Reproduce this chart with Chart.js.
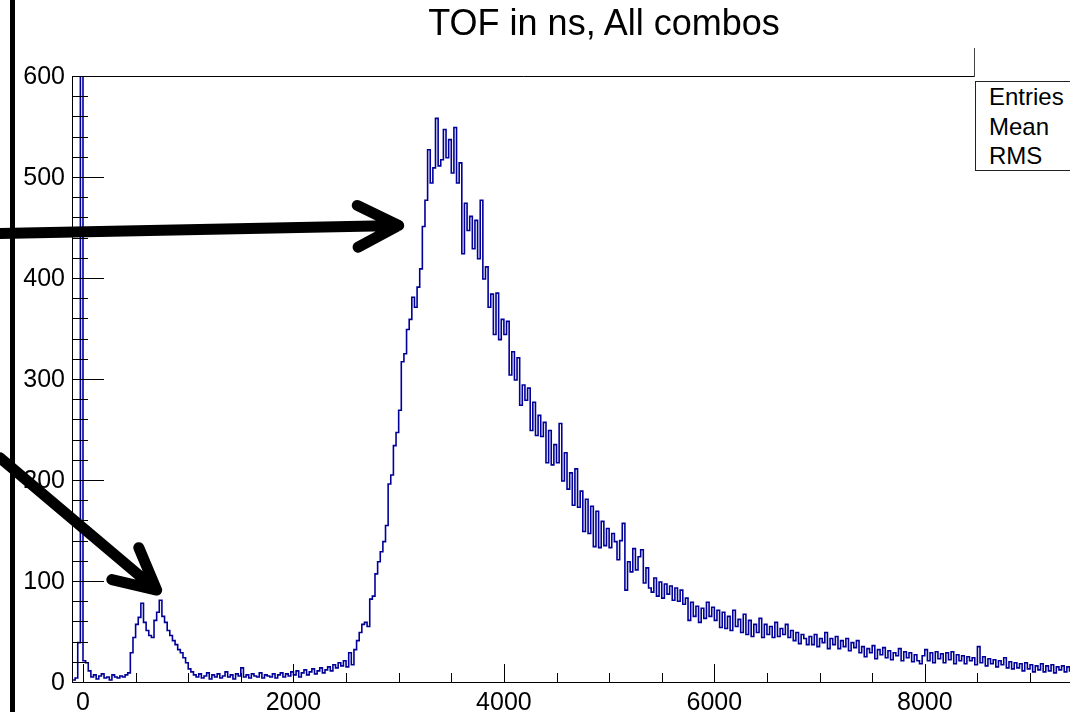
<!DOCTYPE html>
<html>
<head>
<meta charset="utf-8">
<title>TOF in ns, All combos</title>
<script src="https://cdn.jsdelivr.net/npm/chart.js@4.4.1/dist/chart.umd.min.js"></script>
<style>
    html, body { margin: 0; padding: 0; background: #fff; overflow: hidden; }
    #wrap {
        position: relative;
        width: 1070px;
        height: 712px;
        overflow: hidden;
        font-family: 'Liberation Sans', Arial, sans-serif;
        color: #000;
    }
    #tof { position: absolute; left: 0; top: 0; }
    .hist-title {
        position: absolute;
        left: 604px;
        top: 5px;
        transform: translateX(-50%);
        font-size: 36px;
        line-height: 36px;
        white-space: nowrap;
    }
    .stats {
        position: absolute;
        left: 975px;
        top: 81px;
        width: 140px;
        height: 90px;
        border: 1px solid #222;
        box-sizing: border-box;
        padding-left: 13px;
        font-size: 24px;
        line-height: 29.5px;
        background: #fff;
    }
    .edge-bar { position: absolute; left: 10px; top: 0; width: 5px; height: 712px; background: #000; }
    .pad-mark { position: absolute; left: 974px; top: 48px; width: 1px; height: 29px; background: #444; }
</style>
</head>
<body>
<div id="wrap">
    <canvas id="tof" width="1070" height="712"></canvas>
    <div class="hist-title">TOF in ns, All combos</div>
    <div class="pad-mark"></div>
    <div class="stats">
        <div>Entries</div>
        <div>Mean</div>
        <div>RMS</div>
    </div>
    <div class="edge-bar"></div>
</div>
<script>
// TOF histogram: 25 ns bins starting at -100 ns
const binLow = -100;
const binWidth = 25;
// bin 3 overflows the plotted range (above 600)
const counts = [
    3, 5, 40, 1500, 22, 20, 12, 6, 8, 4,
    7, 9, 5, 6, 3, 8, 6, 5, 7, 6,
    8, 10, 30, 45, 58, 65, 79, 60, 52, 47,
    45, 62, 70, 82, 66, 60, 52, 47, 42, 38,
    33, 30, 25, 20, 14, 11, 8, 6, 9, 5,
    7, 10, 4, 8, 6, 9, 5, 7, 11, 6,
    8, 4, 9, 7, 15, 6, 8, 5, 9, 7,
    6, 10, 5, 8, 7, 6, 9, 5, 8, 10,
    6, 9, 7, 11, 8, 12, 6, 10, 13, 8,
    11, 14, 9, 12, 15, 10, 13, 16, 12, 18,
    15, 20, 17, 22, 16, 30, 18, 33, 42, 50,
    58, 60, 56, 83, 86, 108, 120, 130, 140, 156,
    197, 206, 235, 248, 270, 318, 326, 350, 360, 382,
    372, 392, 410, 452, 478, 528, 495, 510, 559, 512,
    518, 548, 520, 538, 505, 550, 495, 515, 425, 475,
    448, 462, 430, 458, 420, 478, 400, 412, 372, 385,
    345, 386, 340, 360, 345, 358, 305, 328, 300, 322,
    275, 295, 280, 292, 250, 278, 245, 265, 244, 258,
    218, 250, 216, 236, 218, 257, 200, 228, 192, 208,
    176, 212, 174, 190, 150, 182, 148, 175, 135, 170,
    134, 160, 136, 153, 134, 148, 140, 122, 141, 158,
    92, 120, 110, 133, 112, 125, 132, 99, 114, 94,
    90, 104, 86, 100, 84, 98, 88, 96, 82, 94,
    81, 92, 78, 84, 62, 80, 66, 76, 60, 74,
    64, 80, 66, 75, 62, 72, 55, 70, 54, 66,
    52, 72, 56, 63, 50, 68, 48, 62, 46, 58,
    50, 64, 45, 58, 48, 56, 45, 60, 46, 54,
    48, 58, 45, 52, 42, 50, 39, 48, 44, 38,
    46, 38, 48, 36, 44, 40, 50, 34, 44, 38,
    46, 34, 42, 36, 44, 32, 40, 35, 42, 30,
    36, 26, 34, 30, 37, 24, 33, 28, 35, 25,
    32, 23, 30, 27, 34, 22, 31, 25, 30, 21,
    28, 22, 19, 27, 33, 22, 30, 20, 31, 24,
    29, 20, 30, 23, 31, 19, 28, 22, 27, 19,
    26, 22, 25, 18, 36, 20, 26, 17, 24, 19,
    23, 16, 22, 18, 25, 15, 21, 14, 20, 15,
    19, 12, 20, 14, 18, 11, 17, 13, 19, 11,
    17, 12, 18, 10, 16, 13, 17, 11, 16, 12
];

const xTickValues = [0, 2000, 4000, 6000, 8000];
const yTickValues = [0, 100, 200, 300, 400, 500, 600];
const xRange = [-95, 9380];
const yRange = [0, 600];

// hand-drawn arrows, in data units: [fromX, fromY, toX, toY]
const arrows = [
    [-790, 445, 3000, 453],
    [-790, 223, 700, 92]
];

// histogram outline: one point per lower bin edge, plus the closing edge
const points = counts.map((c, i) => ({ x: binLow + i * binWidth, y: c }));
points.push({ x: binLow + counts.length * binWidth, y: counts[counts.length - 1] });

const FONT = "'Liberation Sans', Arial, sans-serif";
const frameTopEnd = 975;

// ROOT-style frame: inward ticks with minor divisions, top edge, arrows on top
const rootFrame = {
    id: 'rootFrame',
    afterDatasetsDraw(chart) {
        const { ctx, chartArea: a, scales: { x, y } } = chart;
        ctx.save();
        ctx.strokeStyle = '#000';
        ctx.lineWidth = 1;
        ctx.beginPath();
        ctx.moveTo(a.left - 0.5, a.bottom);
        ctx.lineTo(a.left - 0.5, a.top - 0.5);
        ctx.lineTo(frameTopEnd, a.top - 0.5);
        ctx.moveTo(a.left - 1, a.bottom - 0.5);
        ctx.lineTo(a.right, a.bottom - 0.5);

        for (let v = yRange[0]; v <= yRange[1]; v += 20) {
            const py = Math.round(y.getPixelForValue(v)) - 0.5;
            const len = v % 100 === 0 ? 31 : 15;
            ctx.moveTo(a.left - 1, py);
            ctx.lineTo(a.left + len, py);
        }
        for (let v = 0; v <= xRange[1]; v += 500) {
            const px = Math.round(x.getPixelForValue(v)) + 0.5;
            const len = v % 2000 === 0 ? 19 : 10;
            ctx.moveTo(px, a.bottom);
            ctx.lineTo(px, a.bottom - len);
        }
        ctx.stroke();
        ctx.restore();
    },
    afterDraw(chart) {
        const { ctx, scales: { x, y } } = chart;
        const armLen = 46;
        const spread = 27 * Math.PI / 180;
        ctx.save();
        ctx.strokeStyle = '#000';
        ctx.lineWidth = 11;
        ctx.lineCap = 'round';
        ctx.lineJoin = 'round';
        arrows.forEach(([x0, y0, x1, y1]) => {
            const sx = x.getPixelForValue(x0), sy = y.getPixelForValue(y0);
            const tx = x.getPixelForValue(x1), ty = y.getPixelForValue(y1);
            const back = Math.atan2(sy - ty, sx - tx);
            ctx.beginPath();
            ctx.moveTo(sx, sy);
            ctx.lineTo(tx, ty);
            ctx.moveTo(tx + armLen * Math.cos(back + spread), ty + armLen * Math.sin(back + spread));
            ctx.lineTo(tx, ty);
            ctx.lineTo(tx + armLen * Math.cos(back - spread), ty + armLen * Math.sin(back - spread));
            ctx.stroke();
        });
        ctx.restore();
    }
};

new Chart(document.getElementById('tof'), {
    type: 'line',
    data: {
        datasets: [{
            label: 'TOF',
            data: points,
            borderColor: '#000099',
            borderWidth: 1.6,
            pointRadius: 0,
            stepped: 'before',
            fill: false
        }]
    },
    options: {
        responsive: false,
        animation: false,
        layout: { padding: { top: 77, left: 0, right: 0, bottom: 0 } },
        plugins: {
            legend: { display: false },
            tooltip: { enabled: false },
            title: { display: false }
        },
        scales: {
            x: {
                type: 'linear',
                min: xRange[0],
                max: xRange[1],
                grid: { display: false, drawTicks: false },
                border: { display: false },
                ticks: {
                    color: '#000',
                    font: { family: FONT, size: 25 },
                    padding: 5,
                    maxRotation: 0,
                    autoSkip: false,
                    callback: v => String(v)
                },
                afterBuildTicks: s => { s.ticks = xTickValues.map(v => ({ value: v })); },
                afterFit: s => { s.height = 29; }
            },
            y: {
                min: yRange[0],
                max: yRange[1],
                grid: { display: false, drawTicks: false },
                border: { display: false },
                ticks: {
                    color: '#000',
                    font: { family: FONT, size: 25 },
                    padding: 8
                },
                afterBuildTicks: s => { s.ticks = yTickValues.map(v => ({ value: v })); },
                afterFit: s => { s.width = 73; }
            }
        }
    },
    plugins: [rootFrame]
});
</script>
</body>
</html>
